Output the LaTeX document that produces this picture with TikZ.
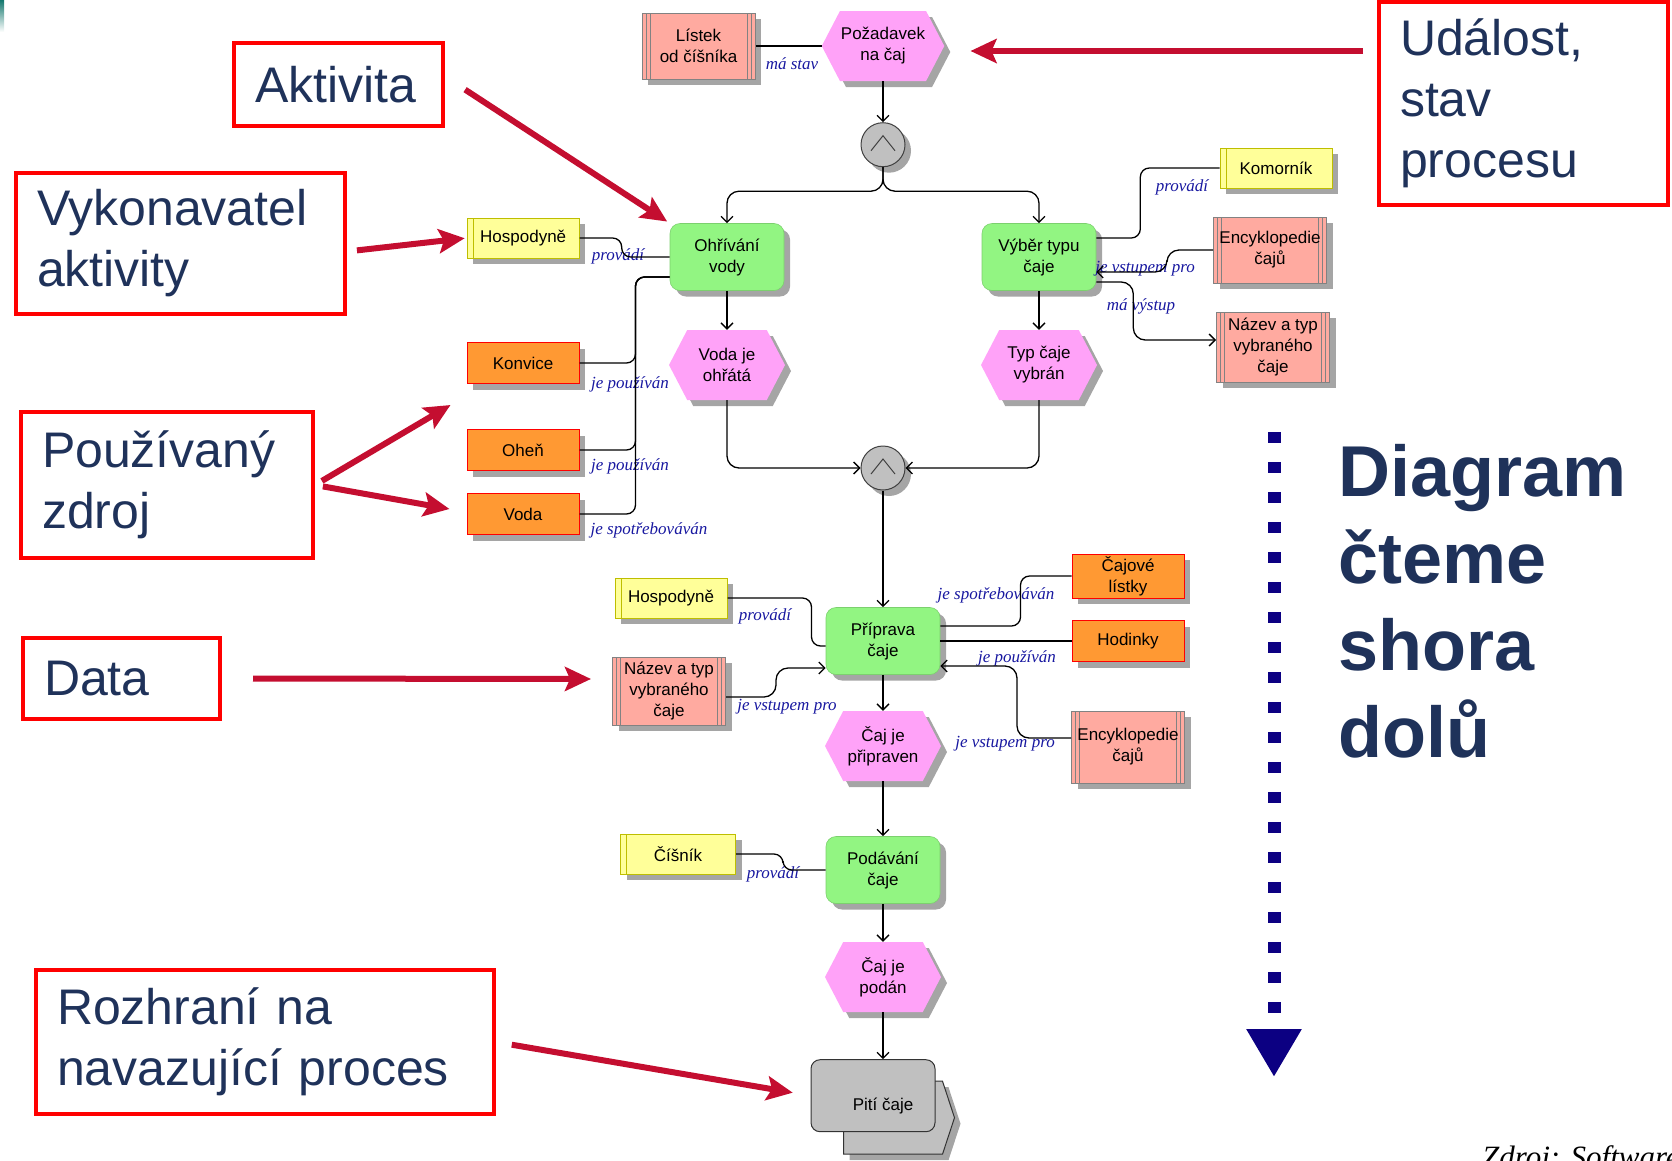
\documentclass[tikz,border=0pt]{standalone}
\usepackage{fontspec}
\setmainfont{Liberation Sans}
\newfontfamily\relfont{Liberation Serif}
\usetikzlibrary{positioning, shapes.symbols, shadows, arrows.meta, calc, backgrounds}

\definecolor{funcgreen}{RGB}{146,245,130}
\definecolor{eventpink}{RGB}{255,162,248}
\definecolor{orgyellow}{RGB}{255,255,153}
\definecolor{orgborder}{RGB}{190,190,0}
\definecolor{infsalmon}{RGB}{255,170,160}
\definecolor{infborder}{RGB}{130,130,130}
\definecolor{resorange}{RGB}{255,153,51}
\definecolor{gategray}{RGB}{192,192,192}
\definecolor{shadowgray}{RGB}{165,165,165}
\definecolor{relblue}{RGB}{24,24,160}
\definecolor{calloutred}{RGB}{255,0,0}
\definecolor{callarrowred}{RGB}{196,14,48}
\definecolor{navytext}{RGB}{31,50,90}
\definecolor{readblue}{RGB}{12,0,130}
\definecolor{slidegreen}{RGB}{20,120,110}

\newcommand\diagfont{\fontsize{17}{21}\selectfont}
\newcommand\callfont{\fontsize{50}{61}\selectfont}

\tikzset{
	boxshadow/.style = {drop shadow={shadow xshift=6pt, shadow yshift=-6pt, fill=shadowgray, opacity=1}},
	funct/.style = {rectangle, rounded corners=10pt, fill=funcgreen, draw=funcgreen!85!black, line width=0.6pt,
	 minimum width=114pt, minimum height=67pt, align=center, inner sep=2pt, boxshadow, font=\diagfont},
	event/.style = {signal, signal to=east and west, signal pointer angle=125, fill=eventpink,
	 minimum width=116pt, minimum height=70pt, align=center, inner sep=1pt, boxshadow, font=\diagfont},
	orgunit/.style = {rectangle, fill=orgyellow, draw=orgborder, line width=1pt, minimum width=112pt,
	 minimum height=40pt, boxshadow, font=\diagfont,
	 path picture={\draw [orgborder, line width=1pt] ([xshift=6pt]path picture bounding box.north west)
	  -- ([xshift=6pt]path picture bounding box.south west);}},
	infobj/.style = {rectangle, fill=infsalmon, draw=infborder, line width=1pt, minimum width=113pt,
	 minimum height=66pt, align=center, inner sep=1pt, boxshadow, font=\diagfont,
	 path picture={
	  \draw [infborder] ([xshift=4pt]path picture bounding box.north west) -- ([xshift=4pt]path picture bounding box.south west);
	  \draw [infborder] ([xshift=8pt]path picture bounding box.north west) -- ([xshift=8pt]path picture bounding box.south west);
	  \draw [infborder] ([xshift=-4pt]path picture bounding box.north east) -- ([xshift=-4pt]path picture bounding box.south east);
	  \draw [infborder] ([xshift=-8pt]path picture bounding box.north east) -- ([xshift=-8pt]path picture bounding box.south east);}},
	resource/.style = {rectangle, fill=resorange, draw=red, line width=1pt, minimum width=112pt,
	 minimum height=41pt, align=center, inner sep=1pt, boxshadow, font=\diagfont},
	gate/.style = {circle, fill=gategray, draw=black!75, line width=1pt, minimum size=44pt, inner sep=0pt, boxshadow,
	 path picture={\draw [line width=1pt] ($(path picture bounding box.center)+(-12pt,-6pt)$)
	  -- ($(path picture bounding box.center)+(0pt,9pt)$) -- ($(path picture bounding box.center)+(12pt,-6pt)$);}},
	iface/.style = {rectangle, rounded corners=9pt, fill=gategray, draw=black!80, line width=1pt, font=\diagfont},
	callout/.style = {draw=calloutred, line width=4pt, text=navytext, font=\callfont, align=left,
	 inner xsep=21pt, inner ysep=0pt},
	callarrow/.style = {draw=callarrowred, line width=6pt, -{Stealth[length=26pt, width=24pt, inset=5pt]}},
	flow/.style = {draw=black, line width=1.3pt, -{Straight Barb[length=6pt, width=12pt]}, rounded corners=12pt},
	assoc/.style = {draw=black, line width=1.3pt, rounded corners=9pt},
	rellabel/.style = {font=\relfont\itshape\fontsize{17}{19}\selectfont, text=relblue, inner sep=0pt},
	readarrow/.style = {draw=readblue, line width=13pt, dash pattern=on 11pt off 19pt, -{Triangle[length=48pt, width=52pt]}}
}

\begin{document}
\begin{tikzpicture}[x=1pt, y=-1pt]
\useasboundingbox (0,0) rectangle (1672,1160);
\shade [top color=slidegreen, bottom color=white] (0,0) rectangle (4,32);

% NODES
% start
\node (pozadavek) [event] at (883,46) {Požadavek\\na čaj};
\node (listek) [infobj, left=66pt of pozadavek] {Lístek\\od číšníka};
\node (gateA) [gate, below=41pt of pozadavek] {};
% water branch
\node (ohrivani) [funct] at (727,257) {Ohřívání\\vody};
\node (hospodyne) [orgunit, left=90pt of ohrivani, yshift=19pt] {Hospodyně};
\node (vodaOhrata) [event, below=39pt of ohrivani] {Voda je\\ohřátá};
\node (konvice) [resource] at (523,363) {Konvice};
\node (ohen) [resource, below=45pt of konvice] {Oheň};
\node (voda) [resource, below=22pt of ohen] {Voda};
% tea branch
\node (vyber) [funct] at (1039,257) {Výběr typu\\čaje};
\node (typVybran) [event, below=39pt of vyber] {Typ čaje\\vybrán};
\node (komornik) [orgunit] at (1276,168) {Komorník};
\node (encyklA) [infobj] at (1270,250) {Encyklopedie\\čajů};
\node (nazevA) [infobj, minimum height=70pt] at (1273,347) {Název a typ\\vybraného\\čaje};
% preparation
\node (gateB) [gate] at (883,468) {};
\node (priprava) [funct] at (883,641) {Příprava\\čaje};
\node (hospodyneB) [orgunit] at (671,598) {Hospodyně};
\node (nazevB) [infobj, minimum height=68pt] at (669,691) {Název a typ\\vybraného\\čaje};
\node (listky) [resource, minimum height=44pt] at (1128,576) {Čajové\\lístky};
\node (hodinky) [resource] at (1128,641) {Hodinky};
\node (encyklB) [infobj, minimum height=72pt] at (1128,747) {Encyklopedie\\čajů};
\node (pripraven) [event, below=36pt of priprava] {Čaj je\\připraven};
% serving
\node (podavani) [funct, below=55pt of pripraven] {Podávání\\čaje};
\node (cisnik) [orgunit, minimum width=115pt] at (678,854) {Číšník};
\node (podan) [event, below=38pt of podavani] {Čaj je\\podán};
\node (piti) [iface, minimum width=124pt, minimum height=72pt, text height=33pt, text depth=4pt, inner sep=0pt,
 below=47pt of podan, xshift=-10pt] {\hspace*{20pt}Pití čaje};
\begin{scope}[on background layer]
\draw [iface, sharp corners, boxshadow] ($(piti.north west)+(33,22)$) -- ($(piti.north east)+(7,22)$)
 -- ($(piti.east)+(19,22)$) -- ($(piti.south east)+(7,22)$) -- ($(piti.south west)+(33,22)$) -- cycle;
\end{scope}

% relation labels
\node (lblMaStav) [rellabel] at (792,64) {má stav};
\node (lblProvadiA) [rellabel] at (618,256) {provádí};
\node (lblKonvice) [rellabel] at (630,384) {je používán};
\node (lblOhen) [rellabel] at (630,466) {je používán};
\node (lblVoda) [rellabel] at (649,530) {je spotřebováván};
\node (lblProvadiB) [rellabel] at (1182,187) {provádí};
\node (lblVstupA) [rellabel] at (1145,269) {je vstupem pro};
\node (lblVystup) [rellabel] at (1141,306) {má výstup};
\node (lblProvadiC) [rellabel] at (765,616) {provádí};
\node (lblVstupB) [rellabel] at (787,707) {je vstupem pro};
\node (lblListky) [rellabel] at (996,595) {je spotřebováván};
\node (lblHodinky) [rellabel] at (1017,658) {je používán};
\node (lblVstupC) [rellabel] at (1005,744) {je vstupem pro};
\node (lblProvadiD) [rellabel] at (773,874) {provádí};

% callouts
\node (aktivita) [callout, text width=167pt, minimum height=83pt] at (338.5,84.5) {Aktivita};
\node (vykonavatel) [callout, text width=287pt, minimum height=141pt] at (180.5,243.5) {Vykonavatel\\aktivity};
\node (zdroj) [callout, text width=250pt, minimum height=146pt] at (167,485) {Používaný\\zdroj};
\node (data) [callout, text width=155pt, minimum height=81pt] at (121.5,678.5) {Data};
\node (rozhrani) [callout, text width=416pt, minimum height=144pt] at (265,1042) {Rozhraní na\\navazující proces};
\node (udalost) [callout, text width=247pt, minimum height=203pt] at (1523.5,103.5) {Událost,\\stav\\procesu};
\node (readtext) [font=\bfseries\fontsize{72}{87}\selectfont, text=navytext, align=left, anchor=north west,
 inner sep=0pt] at (1338,444) {Diagram\\čteme\\shora\\dolů};
\node (source) [font=\relfont\itshape\fontsize{31}{36}\selectfont, anchor=base west, inner sep=0pt] at (1482,1167) {Zdroj: Software};
\coordinate (readtop) at (1274,432);
\coordinate (readend) at (1274,1077);

%CONNECTIONS
\draw [assoc] (listek.east) -- (pozadavek.west);
\draw [flow] (pozadavek.south) -- (gateA.north);
\draw [flow] (gateA.south) -- ++(0,24) -| (ohrivani.north);
\draw [flow] (gateA.south) -- ++(0,24) -| (vyber.north);
\draw [assoc] (hospodyne.east) -- ++(42,0) |- (ohrivani.west);
\draw [assoc] (konvice.east) -- ++(56,0) |- ([yshift=-20pt]ohrivani.west);
\draw [assoc] (ohen.east) -- ++(56,0) |- ([yshift=-20pt]ohrivani.west);
\draw [assoc] (voda.east) -- ++(56,0) |- ([yshift=-20pt]ohrivani.west);
\draw [assoc] ([yshift=19pt]vyber.east) -- ++(44,0) |- (komornik.west);
\draw [flow] (encyklA.west) -- ++(-46,0) |- ([yshift=-15pt]vyber.east);
\draw [flow] ([yshift=-25pt]vyber.east) -- ++(37,0) |- ([yshift=7pt]nazevA.west);
\draw [flow] (ohrivani.south) -- (vodaOhrata.north);
\draw [flow] (vyber.south) -- (typVybran.north);
\draw [flow] (vodaOhrata.south) |- (gateB.west);
\draw [flow] (typVybran.south) |- (gateB.east);
\draw [flow] (gateB.south) -- (priprava.north);
\draw [assoc] (hospodyneB.east) -- ++(84,0) |- ([yshift=-5pt]priprava.west);
\draw [flow] ([yshift=-6pt]nazevB.east) -- ++(50,0) |- ([yshift=-27pt]priprava.west);
\draw [assoc] (listky.west) -- ++(-51,0) |- ([yshift=15pt]priprava.east);
\draw [assoc] (hodinky.west) -- (priprava.east);
\draw [flow] ([yshift=9pt]encyklB.west) -- ++(-54,0) |- ([yshift=-25pt]priprava.east);
\draw [flow] (priprava.south) -- (pripraven.north);
\draw [flow] (pripraven.south) -- (podavani.north);
\draw [assoc] (cisnik.east) -- ++(47,0) |- (podavani.west);
\draw [flow] (podavani.south) -- (podan.north);
\draw [flow] (podan.south) -- (podan.south |- piti.north);
% callout arrows
\draw [callarrow, shorten <=24pt, shorten >=3pt] ([yshift=8pt]aktivita.east) -- (ohrivani.north west);
\draw [callarrow, shorten <=10pt, shorten >=2pt] ([yshift=-8pt]vykonavatel.east) -- (hospodyne.west);
\draw [callarrow, shorten <=8pt] (zdroj.east) -- ([xshift=-16pt, yshift=-21pt]konvice.south west);
\draw [callarrow, shorten <=8pt] (zdroj.east) -- ([xshift=-17pt, yshift=5pt]voda.west);
\draw [callarrow, shorten <=31pt, shorten >=21pt] (data.east) -- ([yshift=12pt]nazevB.west);
\draw [callarrow, shorten <=16pt, shorten >=18pt] (rozhrani.east) -- (piti.west);
\draw [callarrow, shorten <=14pt, shorten >=26pt] ([yshift=-51pt]udalost.north west) -- ([yshift=-5pt]pozadavek.east);
\draw [readarrow] (readtop) -- (readend);

\end{tikzpicture}
\end{document}
